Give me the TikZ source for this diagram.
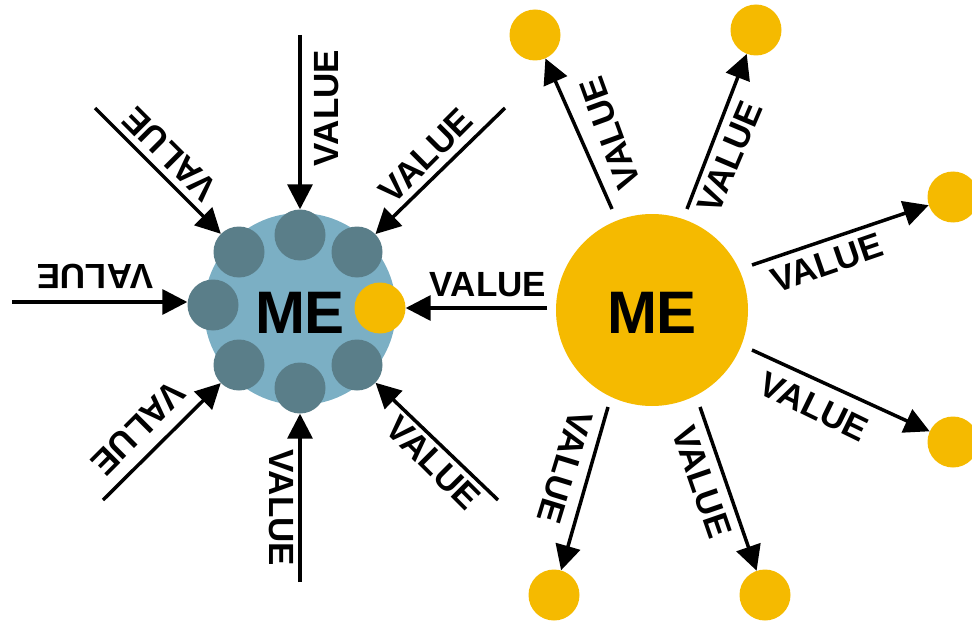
\documentclass[tikz,border=0pt]{standalone}
\usepackage{fontspec}
\setmainfont{Liberation Sans}
\usetikzlibrary{arrows.meta}
\definecolor{sun}{RGB}{245,186,0}
\definecolor{pool}{RGB}{123,175,196}
\definecolor{slate}{RGB}{90,126,137}
\begin{document}
\begin{tikzpicture}[x=1pt,y=-1pt,
  hubdisc/.style={circle,inner sep=0pt,minimum size=192pt},
  dot/.style={circle,inner sep=0pt,minimum size=51pt},
  arr/.style={line width=3.5pt,-{Triangle[length=25pt,width=25pt]}},
  lbl/.style={font=\fontsize{35}{35}\selectfont\bfseries,inner sep=0pt},
  me/.style={font=\fontsize{60}{60}\selectfont\bfseries,inner sep=0pt}]
\useasboundingbox (0,0) rectangle (972,623);

% ---------- receiving side: values flow into ME ----------
\node[hubdisc,fill=pool] (hubL) at (300,309) {};
\node[dot,fill=slate] (n)  at (300,235) {};
\node[dot,fill=slate] (nw) at (239,252) {};
\node[dot,fill=slate] (ne) at (357,252) {};
\node[dot,fill=slate] (w)  at (213,305) {};
\node[dot,fill=sun]   (e)  at (380,308) {};
\node[dot,fill=slate] (sw) at (239,365) {};
\node[dot,fill=slate] (s)  at (300,388) {};
\node[dot,fill=slate] (se) at (357,365) {};
\node[me] (meL) at (300,313) {ME};

\coordinate (inN)  at (300,35);
\coordinate (inNW) at (95,108);
\coordinate (inNE) at (505,108);
\coordinate (inW)  at (12,302);
\coordinate (inE)  at (547,308);
\coordinate (inSW) at (103,500);
\coordinate (inS)  at (300,582);
\coordinate (inSE) at (498,500);

\draw[arr] (inN)  -- (n);
\draw[arr] (inNW) -- (nw);
\draw[arr] (inNE) -- (ne);
\draw[arr] (inW)  -- (inW -| w.west);
\draw[arr] (inE)  -- (inE -| e.east);
\draw[arr] (inSW) -- (sw);
\draw[arr] (inS)  -- (s);
\draw[arr] (inSE) -- (se);

\node[lbl,rotate=90]   (lN)  at (327,108) {VALUE};
\node[lbl,rotate=135]  (lNW) at (170,154) {VALUE};
\node[lbl,rotate=45]   (lNE) at (426,156) {VALUE};
\node[lbl,rotate=180]  (lW)  at (95,276)  {VALUE};
\node[lbl]             (lE)  at (488,285) {VALUE};
\node[lbl,rotate=225]  (lSW) at (138,428) {VALUE};
\node[lbl,rotate=-90]  (lS)  at (281,508) {VALUE};
\node[lbl,rotate=-45]  (lSE) at (433,463) {VALUE};

% ---------- giving side: values flow out of ME ----------
\node[hubdisc,fill=sun] (hubR) at (652,310) {};
\node[me] (meR) at (652,313) {ME};

\node[dot,fill=sun] (o1) at (535,35)  {};
\node[dot,fill=sun] (o2) at (756,30)  {};
\node[dot,fill=sun] (o3) at (953,197) {};
\node[dot,fill=sun] (o4) at (953,442) {};
\node[dot,fill=sun] (o5) at (765,595) {};
\node[dot,fill=sun] (o6) at (554,595) {};

\coordinate (out1) at (612,209);
\coordinate (out2) at (687,209);
\coordinate (out3) at (752,265);
\coordinate (out4) at (752,350);
\coordinate (out5) at (700,407);
\coordinate (out6) at (608,407);

\draw[arr] (out1) -- (o1);
\draw[arr] (out2) -- (o2);
\draw[arr] (out3) -- (o3);
\draw[arr] (out4) -- (o4);
\draw[arr] (out5) -- (o5);
\draw[arr] (out6) -- (o6);

\node[lbl,rotate=110]  (r1) at (610,133) {VALUE};
\node[lbl,rotate=67]   (r2) at (730,157) {VALUE};
\node[lbl,rotate=19]   (r3) at (827,263) {VALUE};
\node[lbl,rotate=-26]  (r4) at (814,407) {VALUE};
\node[lbl,rotate=-71]  (r5) at (702,482) {VALUE};
\node[lbl,rotate=-107] (r6) at (565,467) {VALUE};
\end{tikzpicture}
\end{document}
